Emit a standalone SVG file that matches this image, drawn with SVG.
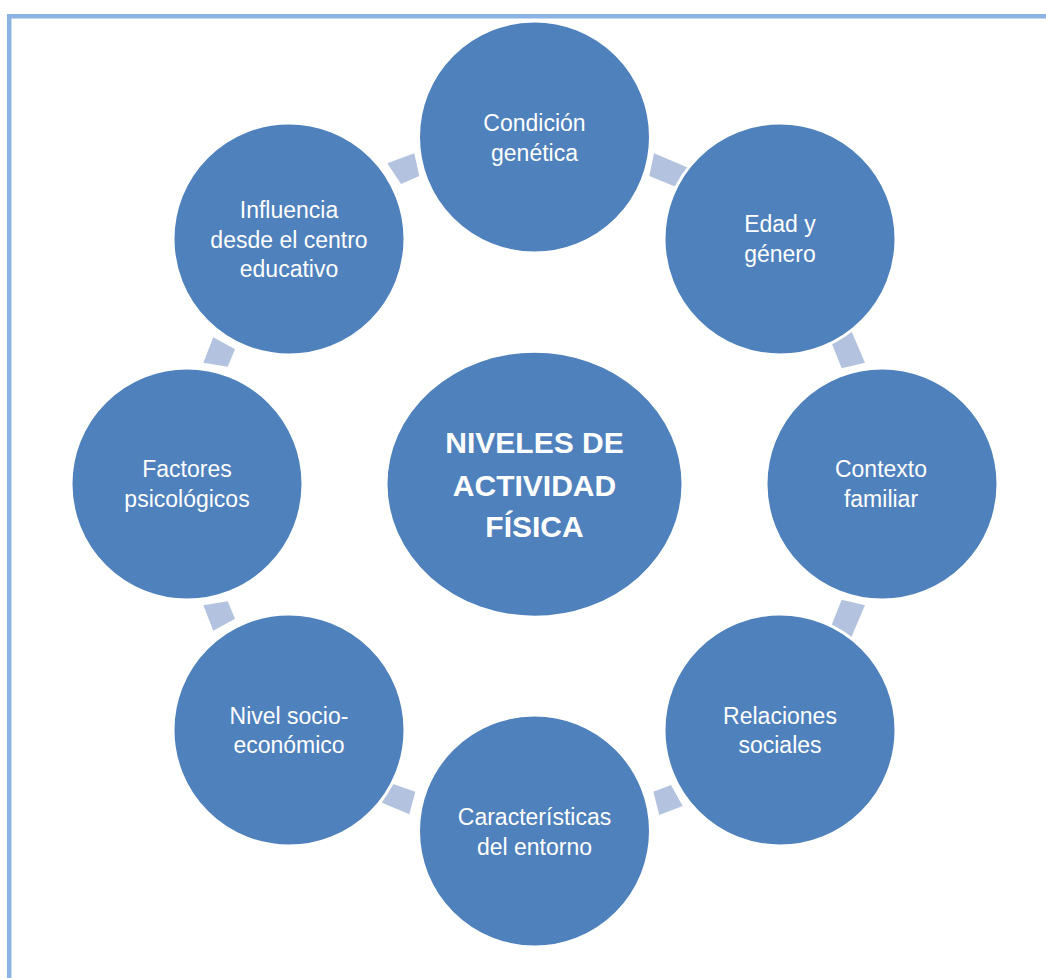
<svg xmlns="http://www.w3.org/2000/svg" width="1046" height="978" viewBox="0 0 1046 978">
<style>
.node{fill:#4F81BD;stroke:#FFFFFF;stroke-width:3}
.lbl{font-family:"Liberation Sans",Arial,sans-serif;font-size:23px;fill:#FFFFFF;text-anchor:middle}
.big{font-family:"Liberation Sans",Arial,sans-serif;font-size:30px;font-weight:bold;fill:#FFFFFF;text-anchor:middle}
.conn{fill:#B3C3DF}
.frame{stroke:#8DB3E2;stroke-width:4.5;fill:none}
</style>
<rect width="1046" height="978" fill="#FFFFFF"/>
<g id="frame">
<line class="frame" x1="7" y1="16.2" x2="1046" y2="16.2"/>
<line class="frame" x1="9.2" y1="14" x2="9.2" y2="978"/>
</g>
<g id="connectors">
<polygon class="conn" points="387.3,163.3 414.3,153.3 419.3,176 401,184"/>
<polygon class="conn" points="654,153.3 689.3,168.3 679.3,188.3 649.3,176"/>
<polygon class="conn" points="831.7,343.3 851,330 865,362.7 841.7,368.3"/>
<polygon class="conn" points="831.7,624.7 851,638 865,605.3 841.7,599.7"/>
<polygon class="conn" points="653.3,791.7 671,785 682.7,806 659.3,815"/>
<polygon class="conn" points="391,783.3 415.3,791.7 409.3,814.3 382,802.7"/>
<polygon class="conn" points="213.3,630.7 235,618.7 227.7,601.3 203.3,605.3"/>
<polygon class="conn" points="213.3,337.3 235,349.3 227.7,366.7 203.3,362.7"/>
</g>
<g id="center">
<ellipse class="node" cx="534.5" cy="484.2" rx="148.5" ry="133"/>
<text class="big" x="534.5" y="453">NIVELES DE</text>
<text class="big" x="534.5" y="495.5">ACTIVIDAD</text>
<text class="big" x="534.5" y="537">FÍSICA</text>
</g>
<g id="n-condicion">
<circle class="node" cx="534.5" cy="137" r="116"/>
<text class="lbl" x="534.5" y="131">Condición</text>
<text class="lbl" x="534.5" y="161">genética</text>
</g>
<g id="n-edad">
<circle class="node" cx="780" cy="239" r="116"/>
<text class="lbl" x="780" y="232">Edad y</text>
<text class="lbl" x="780" y="262">género</text>
</g>
<g id="n-contexto">
<circle class="node" cx="882" cy="484" r="116"/>
<text class="lbl" x="881" y="477">Contexto</text>
<text class="lbl" x="881" y="507">familiar</text>
</g>
<g id="n-relaciones">
<circle class="node" cx="780" cy="730" r="116"/>
<text class="lbl" x="780" y="724">Relaciones</text>
<text class="lbl" x="780" y="753">sociales</text>
</g>
<g id="n-caracteristicas">
<circle class="node" cx="534.5" cy="831" r="116"/>
<text class="lbl" x="534.5" y="825">Características</text>
<text class="lbl" x="534.5" y="855">del entorno</text>
</g>
<g id="n-nivel">
<circle class="node" cx="289" cy="730" r="116"/>
<text class="lbl" x="289" y="724">Nivel socio-</text>
<text class="lbl" x="289" y="753">económico</text>
</g>
<g id="n-factores">
<circle class="node" cx="187" cy="484" r="116"/>
<text class="lbl" x="187" y="477">Factores</text>
<text class="lbl" x="187" y="507">psicológicos</text>
</g>
<g id="n-influencia">
<circle class="node" cx="289" cy="239" r="116"/>
<text class="lbl" x="289" y="218">Influencia</text>
<text class="lbl" x="289" y="248">desde el centro</text>
<text class="lbl" x="289" y="277">educativo</text>
</g>
</svg>
